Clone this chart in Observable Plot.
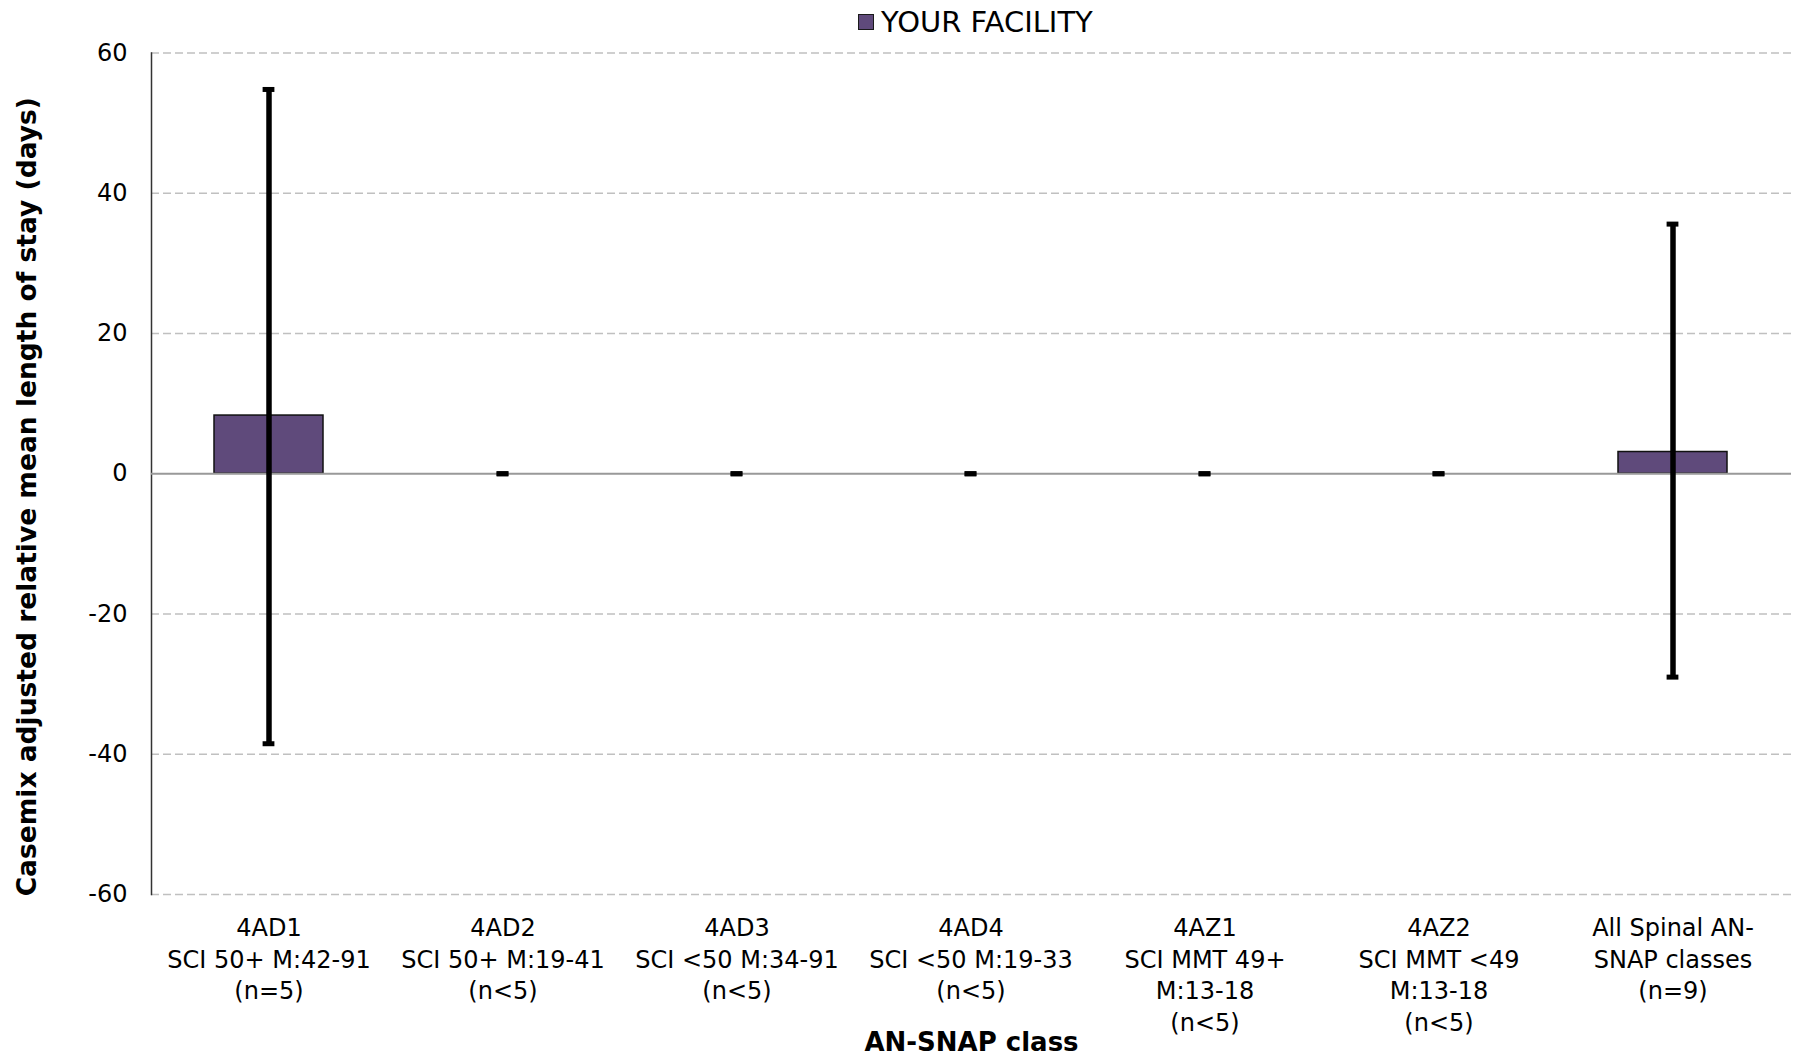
<!DOCTYPE html>
<html>
<head>
<meta charset="utf-8">
<script src="https://cdn.jsdelivr.net/npm/d3@7"></script>
<script src="https://cdn.jsdelivr.net/npm/@observablehq/plot@0.6"></script>
<style>
  html, body { margin: 0; padding: 0; background: #fff; }
  body { font-family: "DejaVu Sans", sans-serif; width: 1795px; height: 1057px; overflow: hidden; }
  #legend { position: relative; width: 1795px; height: 40px; }
  #legend .sw { position: absolute; left: 858px; top: 14px; width: 16px; height: 16px; box-sizing: border-box; border: 1.5px solid #1a1a1a; background: #5f4a7b; }
  #legend .lt { position: absolute; left: 881px; top: 8px; font-size: 29px; line-height: 29px; color: #000; white-space: nowrap; }
</style>
</head>
<body>
<div id="legend"><span class="sw"></span><span class="lt">YOUR FACILITY</span></div>
<div id="chart"></div>
<script>
const categories = ["4AD1", "4AD2", "4AD3", "4AD4", "4AZ1", "4AZ2", "All"];
const categoryLabels = [
  "4AD1\nSCI 50+ M:42-91\n(n=5)",
  "4AD2\nSCI 50+ M:19-41\n(n<5)",
  "4AD3\nSCI <50 M:34-91\n(n<5)",
  "4AD4\nSCI <50 M:19-33\n(n<5)",
  "4AZ1\nSCI MMT 49+\nM:13-18\n(n<5)",
  "4AZ2\nSCI MMT <49\nM:13-18\n(n<5)",
  "All Spinal AN-\nSNAP classes\n(n=9)"
];
const meanLOS = [8.3, 0, 0, 0, 0, 0, 3.1];
const ciLower = [-38.5, 0, 0, 0, 0, 0, -29.0];
const ciUpper = [54.8, 0, 0, 0, 0, 0, 35.6];
const yTicks = [-60, -40, -20, 0, 20, 40, 60];
const seriesName = "YOUR FACILITY";
const yTitle = "Casemix adjusted relative mean length of stay (days)";
const xTitle = "AN-SNAP class";

const data = categories.map((c, i) => ({
  cat: c, label: categoryLabels[i], mean: meanLOS[i], lo: ciLower[i], hi: ciUpper[i]
}));

const purple = "#5f4a7b";

const chart = Plot.plot({
  width: 1795,
  height: 1017,
  marginTop: 12.5,
  marginBottom: 163,
  marginLeft: 151,
  marginRight: 4,
  style: { fontFamily: "DejaVu Sans, sans-serif", fontSize: "24px", color: "#000", background: "#fff" },
  x: { type: "band", domain: categories, paddingInner: 0.534, paddingOuter: 0.267, axis: null },
  y: { domain: [-60, 60], axis: null },
  marks: [
    Plot.ruleY(yTicks.filter(d => d !== 0), { stroke: "#c0c0c0", strokeWidth: 1.5, strokeDasharray: "8,4" }),
    Plot.frame({ anchor: "left", stroke: "#333", strokeWidth: 1.5 }),
    Plot.barY(data, { x: "cat", y: "mean", fill: purple, stroke: "#111", strokeWidth: 1.5 }),
    Plot.ruleY([0], { stroke: "#999", strokeWidth: 2 }),
    Plot.ruleX(data, { x: "cat", y1: "lo", y2: "hi", stroke: "#000", strokeWidth: 5.5 }),
    Plot.tickY(data, { x: "cat", y: "hi", stroke: "#000", strokeWidth: 5, insetLeft: 48.6, insetRight: 48.6 }),
    Plot.tickY(data, { x: "cat", y: "lo", stroke: "#000", strokeWidth: 5, insetLeft: 48.6, insetRight: 48.6 }),
    Plot.axisY({ ticks: yTicks, tickSize: 0, tickPadding: 24, fontSize: 24, label: null, tickFormat: d => String(d) }),
    Plot.text(data, { x: "cat", text: "label", frameAnchor: "bottom", lineAnchor: "top", dy: 19, fontSize: 24, lineHeight: 1.32, fill: "#000" }),
    Plot.text([yTitle], { text: d => d, frameAnchor: "left", textAnchor: "middle", rotate: -90, dx: -124, dy: 23, fontSize: 26.5, fontWeight: "bold", fill: "#000" }),
    Plot.text([xTitle], { text: d => d, frameAnchor: "bottom", textAnchor: "middle", lineAnchor: "middle", dy: 148, fontSize: 26, fontWeight: "bold", fill: "#000" })
  ]
});
document.getElementById("chart").appendChild(chart);
</script>
</body>
</html>
